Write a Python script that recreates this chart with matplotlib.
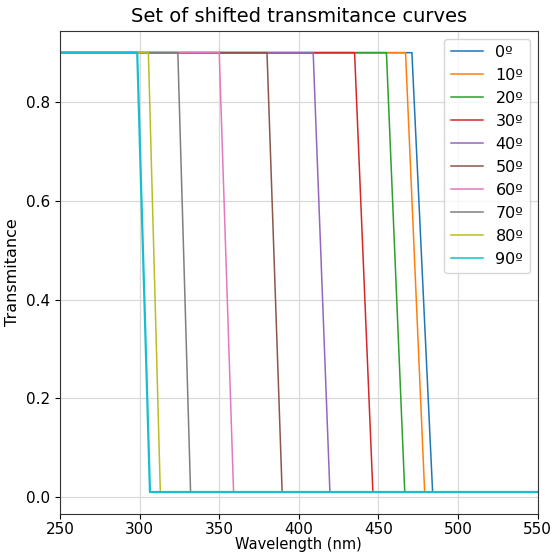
import matplotlib
matplotlib.use("Agg")
import matplotlib.pyplot as plt

angles = [0, 10, 20, 30, 40, 50, 60, 70, 80, 90]
labels = [f"{a}º" for a in angles]
edge_start = [471.0, 467.0, 455.0, 435.0, 409.0, 380.0, 350.0, 324.0, 305.5, 298.5]
edge_end = [484.0, 479.0, 466.5, 446.5, 419.5, 389.5, 359.0, 332.0, 313.0, 306.5]
t_high = 0.9
t_low = 0.01
wl_min, wl_max = 250, 550

W, H = 555, 552
fig = plt.figure(figsize=(W / 100, H / 100), dpi=100)
ax = fig.add_axes([60 / W, (H - 514) / H, (537.7 - 60) / W, (514 - 30.7) / H])

for i, (lab, s, e) in enumerate(zip(labels, edge_start, edge_end)):
    lw = 1.6 if i == len(labels) - 1 else 1.1
    ax.plot([wl_min, s, e, wl_max], [t_high, t_high, t_low, t_low], lw=lw, label=lab)

ax.set_xlim(wl_min, wl_max)
ax.grid(True, color="#d9d9d9", lw=0.9)
ax.set_axisbelow(True)
ax.tick_params(labelsize=11)
ax.tick_params(axis="x", pad=2.5)
ax.set_xlabel("Wavelength (nm)", fontsize=10.5, labelpad=0)
ax.set_ylabel("Transmitance", fontsize=11.5)
ax.set_title("Set of shifted transmitance curves", fontsize=14)
leg = ax.legend(loc="upper right", fontsize=11.5, labelspacing=0.5)
for h in leg.get_lines():
    h.set_linewidth(1.1)
for sp in ax.spines.values():
    sp.set_color("#333333")

fig.savefig("out.png", dpi=100)
